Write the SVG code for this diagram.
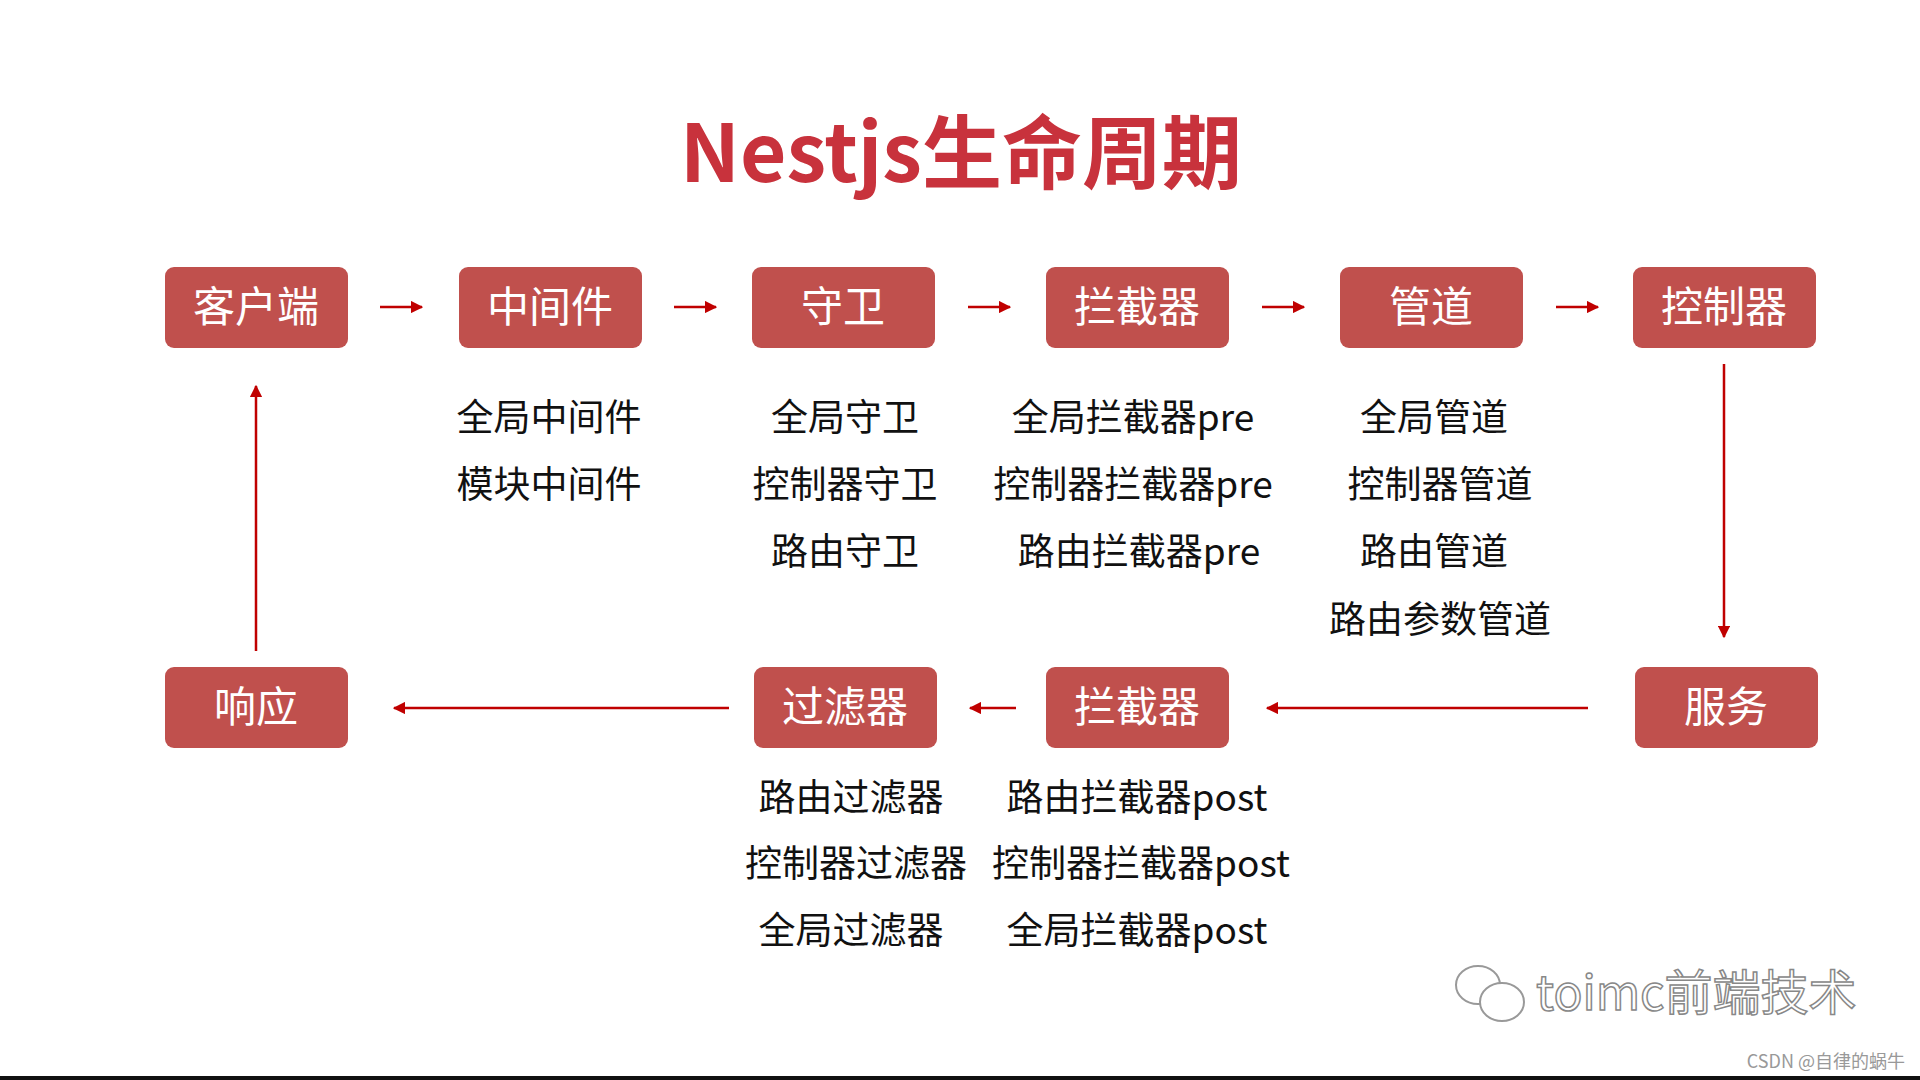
<svg xmlns="http://www.w3.org/2000/svg" width="1920" height="1080" viewBox="0 0 1920 1080">
<defs>
<marker id="ah" viewBox="0 0 10 10" refX="9" refY="5" markerWidth="5" markerHeight="5" orient="auto"><path d="M0,0 L10,5 L0,10 z" fill="#c00000"/></marker>
<style>
.box{fill:#c0504d}
.bt{font-family:"Noto Sans CJK SC",sans-serif;font-size:42px;fill:#fff;text-anchor:middle}
.t{font-family:"Noto Sans CJK SC",sans-serif;font-size:37px;fill:#111;text-anchor:middle}
.c{stroke:#c00000;stroke-width:2.5;fill:none;marker-end:url(#ah)}
</style>
</defs>
<rect width="1920" height="1080" fill="#fff"/>
<text x="961" y="182" font-family="'Noto Sans CJK SC',sans-serif" font-weight="bold" font-size="80" fill="#c8323c" text-anchor="middle">Nestjs生命周期</text>
<g id="n1"><rect class="box" x="165" y="267" width="183" height="81" rx="9"/><text class="bt" x="256" y="322">客户端</text></g>
<g id="n2"><rect class="box" x="459" y="267" width="183" height="81" rx="9"/><text class="bt" x="550" y="322">中间件</text></g>
<g id="n3"><rect class="box" x="752" y="267" width="183" height="81" rx="9"/><text class="bt" x="843" y="322">守卫</text></g>
<g id="n4"><rect class="box" x="1046" y="267" width="183" height="81" rx="9"/><text class="bt" x="1137" y="322">拦截器</text></g>
<g id="n5"><rect class="box" x="1340" y="267" width="183" height="81" rx="9"/><text class="bt" x="1431" y="322">管道</text></g>
<g id="n6"><rect class="box" x="1633" y="267" width="183" height="81" rx="9"/><text class="bt" x="1724" y="322">控制器</text></g>
<g id="n7"><rect class="box" x="1635" y="667" width="183" height="81" rx="9"/><text class="bt" x="1726" y="722">服务</text></g>
<g id="n8"><rect class="box" x="1046" y="667" width="183" height="81" rx="9"/><text class="bt" x="1137" y="722">拦截器</text></g>
<g id="n9"><rect class="box" x="754" y="667" width="183" height="81" rx="9"/><text class="bt" x="845" y="722">过滤器</text></g>
<g id="n10"><rect class="box" x="165" y="667" width="183" height="81" rx="9"/><text class="bt" x="256" y="722">响应</text></g>
<g id="connectors">
<line class="c" x1="380" y1="307" x2="422" y2="307"/>
<line class="c" x1="674" y1="307" x2="716" y2="307"/>
<line class="c" x1="968" y1="307" x2="1010" y2="307"/>
<line class="c" x1="1262" y1="307" x2="1304" y2="307"/>
<line class="c" x1="1556" y1="307" x2="1598" y2="307"/>
<line class="c" x1="1724" y1="364" x2="1724" y2="637"/>
<line class="c" x1="1588" y1="708" x2="1267" y2="708"/>
<line class="c" x1="1016" y1="708" x2="970" y2="708"/>
<line class="c" x1="729" y1="708" x2="394" y2="708"/>
<line class="c" x1="256" y1="651" x2="256" y2="386"/>
</g>
<g id="labels">
<text class="t" x="549" y="431">全局中间件</text>
<text class="t" x="549" y="498">模块中间件</text>
<text class="t" x="845" y="431">全局守卫</text>
<text class="t" x="845" y="498">控制器守卫</text>
<text class="t" x="845" y="565">路由守卫</text>
<text class="t" x="1133" y="431">全局拦截器pre</text>
<text class="t" x="1133" y="498">控制器拦截器pre</text>
<text class="t" x="1139" y="565">路由拦截器pre</text>
<text class="t" x="1434" y="431">全局管道</text>
<text class="t" x="1440" y="498">控制器管道</text>
<text class="t" x="1434" y="565">路由管道</text>
<text class="t" x="1440" y="633">路由参数管道</text>
<text class="t" x="851" y="811">路由过滤器</text>
<text class="t" x="856" y="877">控制器过滤器</text>
<text class="t" x="851" y="944">全局过滤器</text>
<text class="t" x="1137" y="811">路由拦截器post</text>
<text class="t" x="1141" y="877">控制器拦截器post</text>
<text class="t" x="1137" y="944">全局拦截器post</text>
</g>
<g id="watermark" font-family="'Noto Sans CJK SC',sans-serif">
<ellipse cx="1478" cy="985" rx="22" ry="19" fill="#fff" stroke="#999" stroke-width="2"/>
<ellipse cx="1502" cy="1002" rx="22" ry="19" fill="#fff" stroke="#999" stroke-width="2"/>
<text x="1536" y="1010" font-size="48" fill="#fff" stroke="#888" stroke-width="1.5">toimc前端技术</text>
<text x="1905" y="1068" font-size="18" fill="#999" text-anchor="end">CSDN @自律的蜗牛</text>
</g>
<rect x="0" y="1076" width="1920" height="4" fill="#111"/>
</svg>
